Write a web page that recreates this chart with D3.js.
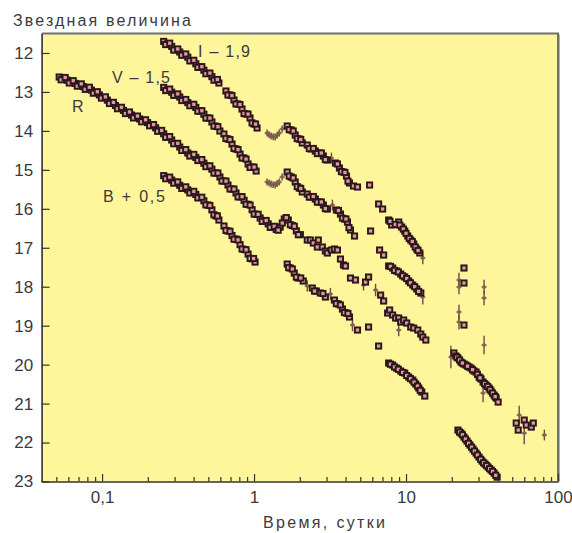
<!DOCTYPE html>
<html><head><meta charset="utf-8">
<script src="https://cdn.jsdelivr.net/npm/d3@7"></script>
<style>body{margin:0;background:#fff}svg{display:block}</style>
</head><body><svg id="c" width="572" height="533"></svg>
<script>
// ---- data: [time (days), magnitude] ----
const xMajorTicks = [0.1, 1, 10, 100];
const xMajorLabels = ["0,1", "1", "10", "100"];
const xMinorTicks = [0.05,0.06,0.07,0.08,0.09,0.2,0.3,0.4,0.5,0.6,0.7,0.8,0.9,2,3,4,5,6,7,8,9,20,30,40,50,60,70,80,90];
const yTicks = [12,13,14,15,16,17,18,19,20,21,22,23];
const seriesLabels = ["I – 1,9", "V – 1,5", "R", "B + 0,5"];

const iPoints = [[0.2543,11.703],[0.2703,11.764],[0.2872,11.831],[0.3053,11.918],[0.3244,11.975],[0.3448,12.042],[0.3665,12.108],[0.3895,12.196],[0.4139,12.278],[0.4399,12.360],[0.4676,12.442],[0.4969,12.524],[0.5281,12.607],[0.5613,12.689],[0.5871,12.771],
[0.2622,11.784],[0.2787,11.748],[0.2961,11.925],[0.3147,11.897],[0.3345,12.059],[0.3555,12.025],[0.3778,12.202],[0.4015,12.187],[0.4267,12.369],[0.4535,12.351],[0.4820,12.533],[0.5123,12.516],[0.5444,12.698],[0.5740,12.680],
[0.6531,12.976],[0.6940,13.079],[0.7376,13.207],[0.7839,13.310],[0.8332,13.438],[0.8856,13.567],[0.9410,13.669],[1.0,13.823],[1.0467,13.926],
[0.6732,13.078],[0.7155,13.093],[0.7604,13.309],[0.8082,13.324],[0.8590,13.553],[0.9129,13.568],[0.9701,13.796],[1.0231,13.825],
[1.6525,13.875],[1.7560,13.978],[1.8660,14.106],[1.9830,14.209],[2.0762,14.311],
[2.2398,14.363],[2.3810,14.465],[2.5307,14.517],[2.6891,14.568],[2.8576,14.645],[3.0370,14.748],[3.4312,14.825],[3.6463,14.953],[3.8748,15.056],[4.0560,15.159],[4.2453,15.338],[4.5118,15.415],[4.7946,15.441],[5.7563,15.390],
[1.7034,13.967],[1.8101,14.002],[1.9236,14.198],[2.0291,14.220],[2.3090,14.454],[2.4546,14.451],[2.6085,14.583],[2.7726,14.567],[2.9463,14.737],[3.5370,14.849],[3.7589,15.045],[3.9644,15.068],[4.1500,15.289],
[6.6008,15.877],[7.0146,16.006],[7.6855,16.288],[8.0439,16.416],[8.9465,16.339],[9.3668,16.468],[9.8040,16.570],[10.26,16.699],[10.74,16.801],[11.24,16.904],[11.77,17.032],[12.32,17.135],
[7.85,16.32],[8.5,16.40],[9.1,16.42],[9.6,16.52],[10.0,16.63],[10.5,16.76],[11.0,16.84],[11.5,16.98],[12.0,17.07],
[24.06,17.520],[24.06,17.905]];
const iCross = [[1.2186,14.055,0.05],[1.2560,14.100,0.05],[1.2953,14.132,0.05],[1.3360,14.150,0.05],[1.3768,14.157,0.05],[1.4200,14.110,0.05],[1.4632,14.055,0.05],[1.5313,13.952,0.05],[3.2283,14.696,0.1],[12.89,17.264,0.12],[22.31,17.828,0.15],[22.31,18.008,0.15],[32.63,18.008,0.15],[32.63,18.290,0.15]];

const vPoints = [[0.2543,12.884],[0.2703,12.945],[0.2872,13.007],[0.3053,13.069],[0.3244,13.130],[0.3448,13.212],[0.3665,13.274],[0.3895,13.336],[0.4139,13.397],[0.4399,13.490],[0.4676,13.572],[0.4969,13.669],[0.5281,13.772],[0.5613,13.880],[0.5961,14.003],
[0.2622,12.965],[0.2787,12.926],[0.2961,13.088],[0.3147,13.050],[0.3345,13.221],[0.3555,13.193],[0.3778,13.355],[0.4015,13.317],[0.4267,13.494],[0.4535,13.481],[0.4820,13.671],[0.5123,13.671],[0.5444,13.876],[0.5786,13.892],
[0.6335,14.080],[0.6738,14.209],[0.7161,14.337],[0.7611,14.465],[0.8089,14.594],[0.8587,14.696],[0.9137,14.850],[0.9700,14.927],[1.0321,15.030],
[0.6533,14.195],[0.6946,14.223],[0.7382,14.451],[0.7846,14.480],[0.8334,14.695],[0.8858,14.723],[0.9414,14.939],[1.0006,14.929],
[1.6525,15.056],[1.7560,15.184],[1.8660,15.312],[1.9830,15.467],[2.0762,15.569],
[2.2398,15.621],[2.3810,15.698],[2.5307,15.749],[2.6891,15.826],[2.8576,15.903],[3.0370,16.006],[3.4838,16.031],[3.7022,16.134],[3.9343,16.262],[4.1182,16.339],[4.3108,16.545],[4.5810,16.699],[5.8448,16.570],
[1.7034,15.160],[1.8101,15.208],[1.9236,15.430],[2.0291,15.478],[2.3090,15.700],[2.4546,15.684],[2.6085,15.828],[2.7726,15.825],[2.9463,15.995],[3.5912,16.043],[3.8163,16.238],[4.0250,16.261],[4.2130,16.482],
[6.7018,17.058],[7.1224,17.187],[7.6855,17.469],[8.1672,17.520],[8.6787,17.597],[9.2257,17.674],[9.8040,17.751],[10.42,17.854],[11.07,17.957],[11.77,18.059],[12.51,18.162],
[7.9,17.48],[8.4,17.58],[8.9,17.62],[9.5,17.72],[10.1,17.79],[10.7,17.90],[11.4,18.00],[12.1,18.12],
[24.06,18.984]];
const vCross = [[1.2186,15.312,0.05],[1.2560,15.340,0.05],[1.2953,15.364,0.05],[1.3360,15.380,0.05],[1.3768,15.390,0.05],[1.4200,15.350,0.05],[1.4632,15.312,0.05],[1.5313,15.184,0.05],[3.2778,15.903,0.1],[12.89,18.265,0.15],[22.31,18.650,0.15],[22.31,18.907,0.15],[32.63,19.497,0.2]];

const rPoints = [[0.0522,12.617],[0.0555,12.658],[0.0590,12.699],[0.0627,12.740],[0.0666,12.781],[0.0708,12.822],[0.0752,12.863],[0.0800,12.904],[0.0850,12.953],[0.0903,13.012],[0.0960,13.076],[0.1020,13.141],[0.1084,13.210],[0.1152,13.284],[0.1225,13.349],[0.1301,13.413],[0.1383,13.474],[0.1470,13.536],[0.1562,13.592],[0.1660,13.644],[0.1765,13.693],[0.1875,13.739],[0.1993,13.788],[0.2118,13.852],[0.2251,13.921],[0.2393,13.998],[0.2543,14.075],[0.2703,14.155],[0.2872,14.234],[0.3053,14.324],[0.3244,14.414],[0.3448,14.491],[0.3665,14.568],[0.3895,14.624],[0.4139,14.681],[0.4399,14.740],[0.4676,14.830],[0.4969,14.907],[0.5281,14.984],[0.5613,15.081],[0.5965,15.184],[0.6340,15.287],[0.6738,15.390],[0.7161,15.492],[0.7611,15.595],[0.8089,15.693],[0.8597,15.782],[0.9137,15.885],[0.9711,16.024],[1.0321,16.144],[1.0969,16.237],[1.1657,16.311],[1.2390,16.386],[1.3168,16.468],[1.3995,16.530],[1.4873,16.468],[1.5807,16.262],[1.6800,16.288],[1.7855,16.429],[1.8977,16.565],[2.0169,16.663],
[0.0538,12.688],[0.0572,12.629],[0.0608,12.770],[0.0646,12.711],[0.0687,12.852],[0.0730,12.793],[0.0775,12.934],[0.0825,12.879],[0.0876,13.033],[0.0931,12.994],[0.0990,13.159],[0.1052,13.126],[0.1118,13.297],[0.1188,13.267],[0.1263,13.431],[0.1341,13.394],[0.1426,13.555],[0.1515,13.514],[0.1610,13.668],[0.1711,13.619],[0.1820,13.766],[0.1933,13.714],[0.2055,13.870],[0.2183,13.837],[0.2321,14.010],[0.2467,13.987],[0.2622,14.165],[0.2787,14.145],[0.2961,14.329],[0.3147,14.319],[0.3345,14.503],[0.3555,14.480],[0.3778,14.646],[0.4015,14.603],[0.4267,14.761],[0.4535,14.735],[0.4820,14.919],[0.5123,14.896],[0.5444,15.083],[0.5786,15.083],[0.6149,15.286],[0.6536,15.289],[0.6946,15.491],[0.7382,15.494],[0.7846,15.694],[0.8339,15.688],[0.8863,15.884],[0.9419,15.905],[1.0011,16.134],[1.0640,16.141],[1.1308,16.324],[1.2017,16.299],[1.2773,16.477],[1.3575,16.449],[1.4427,16.549],[1.5333,16.365],[1.6295,16.225],[1.7319,16.409],[1.8406,16.447],[1.9564,16.664],
[2.2398,16.801],[2.3451,16.801],[2.4546,16.879],[2.6085,16.981],[2.6485,16.801],[2.8145,16.981],[2.9463,17.084],[3.0370,17.135],[3.2283,17.058],[3.3794,17.032],[3.5370,17.058],[3.7022,17.289],[3.8748,17.443],[3.9947,17.469],[4.3108,17.777],[4.6513,17.828],[5.4157,17.880],[5.6694,17.751],[6.8046,18.214],[7.1224,18.367],[7.5683,18.675],[7.8038,18.598],[8.1672,18.727],[8.5475,18.804],[8.9465,18.804],[9.2257,18.907],[9.6560,18.855],[10.107,18.932],[10.74,19.035],[11.24,19.061],[11.95,19.112],[12.51,19.215],[12.89,19.292],[13.50,19.369],
[20.67,19.702],[21.30,19.779],[21.97,19.831],[22.99,19.934],[24.06,19.985],[24.81,20.011],[25.97,20.062],[26.77,20.088],[28.02,20.165],[28.89,20.190],[30.24,20.319],[31.17,20.370],[32.14,20.447],[33.64,20.524],[35.20,20.601],[36.29,20.678],[37.98,20.781],[39.16,20.858],[40.38,20.961],
[21.6,19.81],[22.5,19.88],[23.5,19.96],[25.4,20.04],[27.4,20.13],[29.5,20.25],[30.7,20.34],[32.9,20.49],[34.4,20.56],[35.7,20.64],[37.1,20.73],[38.6,20.82],
[53.10,21.500],[54.73,21.680],[59.97,21.423],[61.83,21.551],[66.72,21.603],[68.78,21.500]];
const rCross = [[5.2532,17.957,0.1],[6.3052,18.085,0.12],[8.9465,19.112,0.12],[19.74,19.805,0.25],[32.14,20.730,0.2],[55.57,21.295,0.2],[59.97,21.757,0.25],[81.33,21.808,0.1]];

const bPoints = [[0.2543,15.148],[0.2703,15.207],[0.2872,15.264],[0.3053,15.320],[0.3244,15.397],[0.3448,15.456],[0.3665,15.515],[0.3895,15.572],[0.4139,15.631],[0.4399,15.711],[0.4676,15.795],[0.4969,15.903],[0.5281,16.026],[0.5613,16.180],[0.5871,16.288],
[0.2622,15.228],[0.2787,15.186],[0.2961,15.342],[0.3147,15.309],[0.3345,15.477],[0.3555,15.436],[0.3778,15.594],[0.4015,15.552],[0.4267,15.721],[0.4535,15.703],[0.4820,15.899],[0.5123,15.915],[0.5444,16.153],[0.5740,16.184],
[0.6340,16.442],[0.6738,16.570],[0.7161,16.686],[0.7611,16.776],[0.8089,16.920],[0.8597,17.043],[0.9137,17.161],[0.9711,17.284],[1.0153,17.367],
[0.6536,16.556],[0.6946,16.578],[0.7382,16.781],[0.7846,16.798],[0.8339,17.032],[0.8863,17.052],[0.9419,17.273],[0.9930,17.276],
[1.6525,17.418],[1.7295,17.520],[1.8378,17.649],[1.9530,17.777],[2.1080,17.854],[2.4175,18.034],[2.5695,18.111],[2.7304,18.162],[2.9463,18.265],[3.3794,18.342],[3.5912,18.444],[3.8163,18.573],[4.0560,18.675],[4.2453,18.778],[4.7946,19.112],[5.6694,19.035],[6.6008,19.523],
[1.6900,17.509],[1.7855,17.545],[1.8977,17.753],[2.0291,17.776],[2.5000,18.113],[2.8400,18.174],[3.4800,18.433],[3.7000,18.469],[3.9343,18.664],[4.1500,18.687],
[7.6855,19.959],[8.1672,20.011],[8.6787,20.088],[9.2257,20.165],[9.8040,20.216],[10.42,20.319],[11.07,20.396],[11.59,20.499],[12.13,20.601],[12.70,20.704],[13.29,20.807],
[7.9,19.99],[8.4,20.06],[8.9,20.12],[9.5,20.20],[10.1,20.28],[10.7,20.36],[11.3,20.45],[11.9,20.55],[12.4,20.66],
[21.97,21.680],[22.99,21.757],[24.06,21.860],[25.19,21.962],[26.36,22.065],[27.60,22.168],[28.89,22.270],[30.24,22.373],[31.65,22.476],[33.13,22.553],[34.67,22.630],[36.29,22.707],[37.98,22.784],[39.77,22.887],
[22.5,21.73],[23.5,21.80],[24.6,21.91],[25.8,22.02],[27.0,22.12],[28.2,22.22],[29.5,22.32],[31.0,22.43],[32.4,22.52],[33.9,22.59],[35.5,22.67],[37.1,22.74],[38.9,22.84]];
const bCross = [[2.2398,17.982,0.1],[3.1795,18.188,0.12],[4.4437,18.984,0.12]];

// ---- drawing ----
const svg = d3.select("#c");
const x = d3.scaleLog().domain([0.04, 100]).range([41.6, 558]);
const y = d3.scaleLinear().domain([11.5, 23]).range([33.5, 481.5]);
const FONT = "'Liberation Sans', Arial, Helvetica, sans-serif";
const TXT = "#3a3a3a";

svg.append("rect").attr("x", x.range()[0]).attr("y", y.range()[0])
  .attr("width", x.range()[1] - x.range()[0]).attr("height", y.range()[1] - y.range()[0])
  .attr("fill", "#fff59b");
svg.append("path")
  .attr("d", `M${x.range()[0]},${y.range()[0]}H${x.range()[1]}V${y.range()[1]}`)
  .attr("fill", "none").attr("stroke", "#707070").attr("stroke-width", 2);
svg.append("line").attr("x1", x.range()[1] + 1.5).attr("x2", x.range()[1] + 1.5)
  .attr("y1", y.range()[0] + 1).attr("y2", y.range()[1])
  .attr("stroke", "#b0b0b0").attr("stroke-width", 1);

const gMinor = svg.append("g").attr("transform", `translate(0,${y.range()[1]})`)
  .call(d3.axisBottom(x).tickValues(xMinorTicks).tickSize(-4.5).tickFormat(""));
gMinor.select(".domain").remove();
const gX = svg.append("g").attr("transform", `translate(0,${y.range()[1]})`)
  .call(d3.axisBottom(x).tickValues(xMajorTicks).tickSizeInner(-7.5).tickSizeOuter(0).tickPadding(9)
    .tickFormat((d, i) => xMajorLabels[i]));
gX.select(".domain").attr("stroke", "#333").attr("stroke-width", 1.6);
gX.selectAll("text").attr("font-family", FONT).attr("font-size", 17).attr("fill", TXT);
svg.selectAll(".tick line").attr("stroke", "#333").attr("stroke-width", 1.2);

const gY = svg.append("g").attr("transform", `translate(${x.range()[0]},0)`)
  .call(d3.axisLeft(y).tickValues(yTicks).tickSizeInner(-8).tickSizeOuter(0).tickPadding(8.5).tickFormat(d3.format("d")));
gY.select(".domain").attr("stroke", "#333").attr("stroke-width", 1.6);
gY.selectAll(".tick line").attr("stroke", "#333").attr("stroke-width", 1.2);
gY.selectAll("text").attr("font-family", FONT).attr("font-size", 17).attr("fill", TXT);

// points with error bars
const allCross = [].concat(iCross, vCross, rCross, bCross);
const gc = svg.append("g").attr("stroke", "#5e3a3c").attr("stroke-width", 1.4).attr("opacity", 0.9);
allCross.forEach(d => {
  const cx = x(d[0]), cy = y(d[1]);
  gc.append("line").attr("x1", cx).attr("x2", cx).attr("y1", y(d[1] - d[2]) - 1.5).attr("y2", y(d[1] + d[2]) + 1.5);
  gc.append("line").attr("x1", cx - 2.5).attr("x2", cx + 2.5).attr("y1", cy).attr("y2", cy);
  gc.append("rect").attr("x", cx - 1.5).attr("y", cy - 1.5).attr("width", 3).attr("height", 3)
    .attr("fill", "#7a4f50").attr("stroke", "none");
});

// square markers
const S = 5.2;
const allPts = [].concat(iPoints, vPoints, rPoints, bPoints);
svg.append("g").selectAll("rect").data(allPts).join("rect")
  .attr("x", d => x(d[0]) - S / 2).attr("y", d => y(d[1]) - S / 2)
  .attr("width", S).attr("height", S)
  .attr("fill", "#e5979c").attr("stroke", "#28181b").attr("stroke-width", 1.9);

function txt(s, tx, ty, len) {
  const t = svg.append("text").attr("x", tx).attr("y", ty).text(s)
    .attr("font-family", FONT).attr("font-size", 16).attr("fill", TXT);
  if (len) t.attr("textLength", len).attr("lengthAdjust", "spacing");
  return t;
}
txt("Звездная величина", 13, 25.5, 178);
txt("Время, сутки", 263, 528, 122);
txt(seriesLabels[0], 198, 57, 52);
txt(seriesLabels[1], 112, 82.5, 58);
txt(seriesLabels[2], 72, 112);
txt(seriesLabels[3], 103, 202, 62);
</script></body></html>
